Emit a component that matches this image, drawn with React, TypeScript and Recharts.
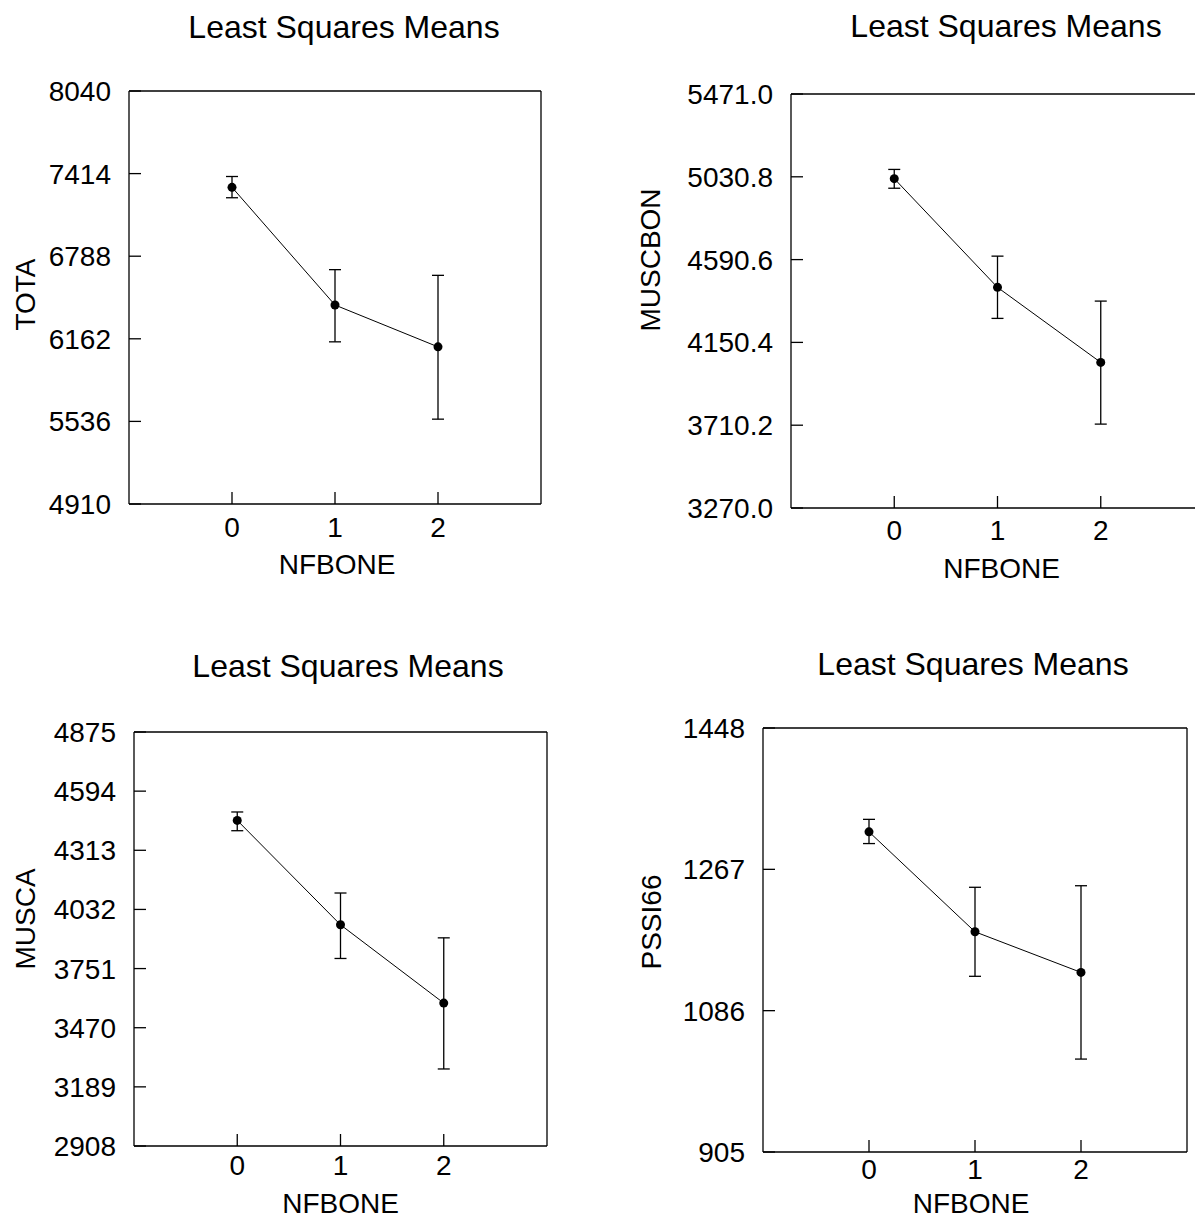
import { LineChart, Line, XAxis, YAxis, ErrorBar } from 'recharts';

// NFBONE levels
const levels = [0, 1, 2];

// TOTA
const totaMean = [7310, 6418, 6101];
const totaLow = [7231, 6139, 5553];
const totaHigh = [7392, 6686, 6643];
const totaTicks = [4910, 5536, 6162, 6788, 7414, 8040];

// MUSCBON
const muscbonMean = [5021, 4443, 4044];
const muscbonLow = [4970, 4278, 3716];
const muscbonHigh = [5070, 4609, 4370];
const muscbonTicks = [3270.0, 3710.2, 4150.4, 4590.6, 5030.8, 5471.0];

// MUSCA
const muscaMean = [4455, 3959, 3587];
const muscaLow = [4406, 3799, 3274];
const muscaHigh = [4495, 4110, 3897];
const muscaTicks = [2908, 3189, 3470, 3751, 4032, 4313, 4594, 4875];

// PSSI66
const pssiMean = [1315, 1187, 1135];
const pssiLow = [1300, 1130, 1024];
const pssiHigh = [1331, 1244, 1246];
const pssiTicks = [905, 1086, 1267, 1448];

const FONT = '"Liberation Sans", Arial, Helvetica, sans-serif';
const TITLE = 'Least Squares Means';
const X_LABEL = 'NFBONE';

const LEFT_W = 160;
const TOP_M = 20;
const RIGHT_M = 20;
const BOTTOM_H = 100;

interface Frame {
  l: number;
  t: number;
  r: number;
  b: number;
}

interface PanelProps {
  yLabel: string;
  mean: number[];
  low: number[];
  high: number[];
  ticks: number[];
  decimals: number;
  frame: Frame;
  titleCx: number;
  titleCy: number;
  yLabelDx: number;
  yLabelDy: number;
  xLabelDx: number;
  xLabelDy: number;
  xTickGap: number;
}

function Panel({
  yLabel,
  mean,
  low,
  high,
  ticks,
  decimals,
  frame,
  titleCx,
  titleCy,
  yLabelDx,
  yLabelDy,
  xLabelDx,
  xLabelDy,
  xTickGap,
}: PanelProps) {
  const data = levels.map((x, i) => ({
    x,
    y: mean[i],
    err: [mean[i] - low[i], high[i] - mean[i]],
  }));
  const fw = frame.r - frame.l;
  const fh = frame.b - frame.t;
  const domain: [number, number] = [ticks[0], ticks[ticks.length - 1]];
  const tickStyle = { fill: '#000', fontSize: 28, fontFamily: FONT };
  const axisLine = { stroke: '#000', strokeWidth: 1.3 };
  const tickLine = { stroke: '#000', strokeWidth: 1.3 };

  return (
    <>
      <div
        style={{
          position: 'absolute',
          left: titleCx - 300,
          width: 600,
          top: titleCy - 32 * 0.49,
          fontSize: 32,
          lineHeight: '32px',
          fontFamily: FONT,
          textAlign: 'center',
          color: '#000',
          whiteSpace: 'nowrap',
        }}
      >
        {TITLE}
      </div>
      <div style={{ position: 'absolute', left: frame.l - LEFT_W, top: frame.t - TOP_M }}>
        <LineChart
          width={fw + LEFT_W + RIGHT_M}
          height={fh + TOP_M + BOTTOM_H}
          data={data}
          margin={{ top: TOP_M - 1, right: RIGHT_M - 1, left: 0, bottom: 0 }}
        >
          <XAxis
            dataKey="x"
            type="number"
            domain={[-1, 3]}
            ticks={levels}
            height={BOTTOM_H}
            axisLine={axisLine}
            tickLine={tickLine}
            tickSize={-12}
            tickMargin={12 + xTickGap}
            tick={tickStyle}
            label={{
              content: () => (
                <text
                  x={LEFT_W + fw / 2 + xLabelDx}
                  y={TOP_M + fh + xLabelDy}
                  textAnchor="middle"
                  dominantBaseline="central"
                  fontSize={28}
                  fontFamily={FONT}
                  fill="#000"
                >
                  {X_LABEL}
                </text>
              ),
            }}
          />
          <XAxis
            xAxisId="top"
            dataKey="x"
            type="number"
            orientation="top"
            domain={[-1, 3]}
            ticks={levels}
            height={1}
            axisLine={axisLine}
            tickLine={tickLine}
            tickSize={-12}
            tick={false}
          />
          <YAxis
            type="number"
            domain={domain}
            ticks={ticks}
            width={LEFT_W}
            axisLine={axisLine}
            tickLine={tickLine}
            tickSize={-12}
            tickMargin={30}
            tick={tickStyle}
            tickFormatter={(v: number) => v.toFixed(decimals)}
            interval={0}
            label={{
              content: () => {
                const cx = LEFT_W + yLabelDx;
                const cy = TOP_M + fh / 2 + yLabelDy;
                return (
                  <text
                    x={cx}
                    y={cy}
                    transform={`rotate(-90 ${cx} ${cy})`}
                    textAnchor="middle"
                    dominantBaseline="central"
                    fontSize={28}
                    fontFamily={FONT}
                    fill="#000"
                  >
                    {yLabel}
                  </text>
                );
              },
            }}
          />
          <YAxis
            yAxisId="right"
            type="number"
            orientation="right"
            domain={domain}
            ticks={ticks}
            width={1}
            axisLine={axisLine}
            tickLine={tickLine}
            tickSize={-12}
            tick={false}
            interval={0}
          />
          <Line
            xAxisId="top"
            yAxisId="right"
            dataKey="y"
            stroke="none"
            dot={false}
            activeDot={false}
            isAnimationActive={false}
          />
          <Line
            type="linear"
            dataKey="y"
            stroke="#000"
            strokeWidth={1}
            dot={{ r: 4.5, fill: '#000', stroke: '#000', strokeWidth: 0 }}
            activeDot={false}
            isAnimationActive={false}
          >
            <ErrorBar dataKey="err" direction="y" width={6} stroke="#000" strokeWidth={1.3} isAnimationActive={false} />
          </Line>
        </LineChart>
      </div>
    </>
  );
}

export default function App() {
  return (
    <div
      style={{
        position: 'absolute',
        left: 0,
        top: 0,
        width: 1195,
        height: 1218,
        overflow: 'hidden',
        background: '#fff',
      }}
    >
      <Panel
        yLabel="TOTA"
        mean={totaMean}
        low={totaLow}
        high={totaHigh}
        ticks={totaTicks}
        decimals={0}
        frame={{ l: 129, t: 91, r: 541, b: 504 }}
        titleCx={344}
        titleCy={27}
        yLabelDx={-104}
        yLabelDy={-3}
        xLabelDx={2}
        xLabelDy={60}
        xTickGap={13}
      />
      <Panel
        yLabel="MUSCBON"
        mean={muscbonMean}
        low={muscbonLow}
        high={muscbonHigh}
        ticks={muscbonTicks}
        decimals={1}
        frame={{ l: 791, t: 94, r: 1204, b: 508 }}
        titleCx={1006}
        titleCy={26}
        yLabelDx={-141}
        yLabelDy={-41}
        xLabelDx={4}
        xLabelDy={60}
        xTickGap={12}
      />
      <Panel
        yLabel="MUSCA"
        mean={muscaMean}
        low={muscaLow}
        high={muscaHigh}
        ticks={muscaTicks}
        decimals={0}
        frame={{ l: 134, t: 732, r: 547, b: 1146 }}
        titleCx={348}
        titleCy={666}
        yLabelDx={-109}
        yLabelDy={-20}
        xLabelDx={0}
        xLabelDy={57}
        xTickGap={9}
      />
      <Panel
        yLabel="PSSI66"
        mean={pssiMean}
        low={pssiLow}
        high={pssiHigh}
        ticks={pssiTicks}
        decimals={0}
        frame={{ l: 763, t: 728, r: 1187, b: 1152 }}
        titleCx={973}
        titleCy={664}
        yLabelDx={-112}
        yLabelDy={-18}
        xLabelDx={-4}
        xLabelDy={51}
        xTickGap={7}
      />
    </div>
  );
}
